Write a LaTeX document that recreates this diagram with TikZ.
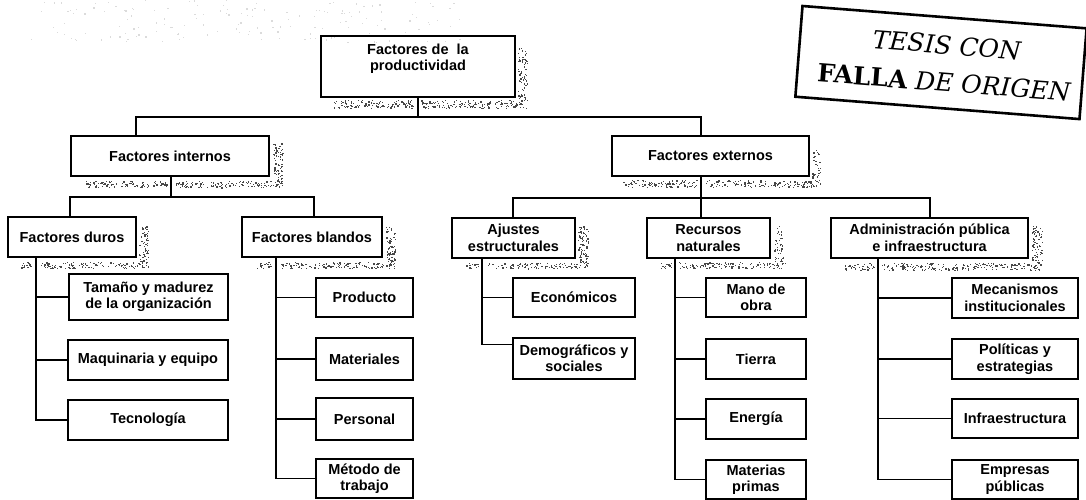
\documentclass[tikz,border=0pt]{standalone}
\usepackage{fontspec}
\setmainfont{Liberation Sans}
\newfontfamily\stampfont{DejaVu Serif}

% box with corners (x1,y1)-(x2,y2) in pixel units, y pointing down
\newcommand\boxat[6]{%
  \node[box, minimum width={(#4-#2)*1pt}, minimum height={(#5-#3)*1pt}]
    (#1) at ({(#2+#4)/2},{(#3+#5)/2}) {#6};}
% grainy shadow strip: random specks inside (x1,y1)-(x2,y2)
\newcommand\speck[6][speck]{%
  \foreach \k in {1,...,#6}{%
    \pgfmathsetmacro\px{#2+rnd*(#4-#2)}%
    \pgfmathsetmacro\py{#3+rnd*(#5-#3)}%
    \pgfmathsetmacro\ps{0.7+rnd*0.9}%
    \fill[#1] (\px,\py) rectangle ++(\ps,\ps);}}

\begin{document}
\begin{tikzpicture}[x=1pt,y=-1pt,
  box/.style={draw, line width=1.8pt, inner sep=0pt, align=center,
    font=\bfseries\fontsize{14.5}{16.5}\selectfont},
  txt/.style={inner sep=0pt, align=center, font=\bfseries\fontsize{14.5}{16.5}\selectfont},
  conn/.style={line width=1.3pt},
  speck/.style={fill=black!72},
  haze/.style={fill=black!14}]
\useasboundingbox (0,0) rectangle (1086,500);
\clip (0,0) rectangle (1086,500);
\pgfmathsetseed{4711}

% faint screen grain, upper left
\speck[haze]{30}{0}{460}{42}{160}

% ---------- shadows of the parent boxes ----------
\speck{333}{100}{414}{108}{120}  \speck{421}{100}{527}{108}{160}  \speck{518}{48}{527}{100}{80}
\speck{85}{181}{167}{187}{95}    \speck{175}{181}{283}{187}{125}  \speck{273}{142}{283}{181}{70}
\speck{623}{180}{697}{187}{95}   \speck{705}{180}{820}{187}{140}  \speck{812}{150}{820}{180}{35}
\speck{20}{262}{32}{268}{16}     \speck{40}{262}{148}{268}{115}   \speck{139}{226}{148}{262}{60}
\speck{256}{262}{272}{268}{20}   \speck{280}{262}{395}{268}{130}  \speck{386}{226}{395}{262}{60}
\speck{465}{263}{478}{268}{16}   \speck{486}{263}{588}{268}{100}  \speck{578}{226}{588}{263}{90}
\speck{660}{262}{671}{268}{14}   \speck{679}{262}{785}{268}{120}  \speck{774}{226}{783}{262}{45}
\speck{845}{263}{874}{270}{40}   \speck{882}{263}{1042}{270}{200} \speck{1032}{226}{1042}{263}{70}

% ---------- top ----------
\node[box, minimum width=194pt, minimum height=61pt] (top) at (418,66.5) {};
\node[txt] (toptxt) at (418,59) {Factores de\ \ la\\productividad};

% ---------- first level ----------
\boxat{int}{71}{136}{269}{176}{Factores internos}
\boxat{ext}{612}{136}{809}{176}{Factores externos}

% ---------- second level ----------
\boxat{dur}{8}{217}{136}{257}{Factores duros}
\boxat{bla}{242}{217}{382}{257}{Factores blandos}
\boxat{aju}{452}{218}{575}{258}{Ajustes\\estructurales}
\boxat{rec}{647}{218}{770}{258}{Recursos\\naturales}
\boxat{adm}{831}{218}{1028}{258}{Administración pública\\e infraestructura}

% ---------- leaves ----------
\boxat{tam}{69}{274}{228}{320}{Tamaño y madurez\\de la organización}
\boxat{maq}{68}{340}{228}{380}{Maquinaria y equipo}
\boxat{tec}{68}{400}{228}{440}{Tecnología}

\boxat{pro}{316}{278}{413}{317}{Producto}
\boxat{mat}{316}{338}{413}{380}{Materiales}
\boxat{per}{316}{398}{413}{440}{Personal}
\boxat{met}{316}{459}{413}{498}{Método de\\trabajo}

\boxat{eco}{513}{278}{635}{317}{Económicos}
\boxat{dem}{513}{338}{635}{379}{Demográficos y\\sociales}

\boxat{man}{706}{278}{806}{317}{Mano de\\obra}
\boxat{tie}{706}{339}{806}{379}{Tierra}
\boxat{ene}{706}{399}{806}{439}{Energía}
\boxat{mpr}{706}{460}{806}{499}{Materias\\primas}

\boxat{mec}{952}{278}{1078}{318}{Mecanismos\\institucionales}
\boxat{pol}{952}{339}{1078}{379}{Políticas y\\estrategias}
\boxat{inf}{952}{399}{1078}{438}{Infraestructura}
\boxat{emp}{952}{460}{1078}{499}{Empresas\\públicas}

% ---------- junction points ----------
\coordinate (j0) at (418,117);
\coordinate (intN) at (136,136);
\coordinate (extN) at (701,136);
\coordinate (j1) at (171,197);
\coordinate (j2) at (701,198);
\coordinate (durN) at (70,217);
\coordinate (blaN) at (314,217);
\coordinate (ajuN) at (513,218);
\coordinate (admN) at (930,218);
\coordinate (durS) at (36,257);
\coordinate (blaS) at (276,257);
\coordinate (ajuS) at (482,258);
\coordinate (recS) at (675,258);
\coordinate (admS) at (878,258);

% ---------- connectors ----------
\draw[conn] (top.south) -- (j0);
\draw[conn] (intN) |- (j0) -| (extN);
\draw[conn] (int.south -| j1) -- (j1);
\draw[conn] (durN) |- (j1) -| (blaN);
\draw[conn] (ext.south -| j2) -- (j2);
\draw[conn] (ajuN) |- (j2) -| (admN);
\draw[conn] (j2) -- (rec.north -| j2);

\foreach \leaf in {tam,maq,tec} \draw[conn] (durS) |- (\leaf.west);
\foreach \leaf in {pro,mat,per,met} \draw[conn] (blaS) |- (\leaf.west);
\draw[conn] (ajuS) |- (eco.west);
\draw[conn] (ajuS) |- ([yshift=14pt]dem.west);
\foreach \leaf in {man,tie,ene,mpr} \draw[conn] (recS) |- (\leaf.west);
\foreach \leaf in {mec,pol,inf,emp} \draw[conn] (admS) |- (\leaf.west);

% ---------- stamp ----------
\begin{scope}[shift={(802.5,6)}, rotate=-4.5]
  \draw[line width=2.6pt] (0,0) rectangle (285,91);
  \node[inner sep=0pt, rotate=-4.5, font=\stampfont\fontsize{25}{26}\selectfont]
    (stamp1) at (147,27.5) {\itshape TESIS CON};
  \node[inner sep=0pt, rotate=-4.5, font=\stampfont\fontsize{25}{26}\selectfont]
    (stamp2) at (147,65) {{\bfseries FALLA} \itshape DE ORIGEN};
\end{scope}
\end{tikzpicture}
\end{document}
